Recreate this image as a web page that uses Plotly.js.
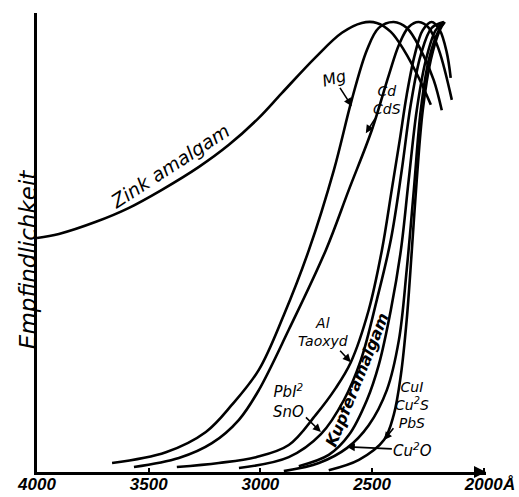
<!DOCTYPE html>
<html>
<head>
<meta charset="utf-8">
<script src="https://cdn.plot.ly/plotly-3.0.1.min.js"></script>
<style>html,body{margin:0;padding:0;background:#fff;}#chart{width:519px;height:497px;}</style>
</head>
<body>
<div id="chart"></div>
<script>
// Wavelength (Å) and relative sensitivity values
const zinkX = [4000,3902,3736,3588,3441,3275,3141,3007,2904,2752,2635,2546,2479,2416,2358,2291,2237];
const zinkY = [52,52.9,55.6,58.7,62.7,67.8,72.7,78.7,84.2,92.2,97.6,99.8,99.8,97.8,93.8,87.6,81.6];
const mgX = [3664,3423,3244,3128,3007,2895,2783,2671,2591,2523,2470,2403,2345,2282,2224,2188];
const mgY = [2,4.4,8.9,14.9,22.7,34.9,49.3,67.1,82.7,93.8,98.7,100,98.7,93.8,87.1,80.4];
const cdsX = [3566,3365,3217,3096,3007,2873,2707,2604,2501,2425,2380,2336,2291,2246,2201,2143];
const cdsY = [1.1,3.1,6.4,11.6,18.2,31.6,49.3,62.7,76,88.2,94.9,98.9,100,98.7,93.8,82.7];
const alX = [3374,3186,3020,2873,2752,2662,2595,2515,2456,2412,2376,2345,2309,2273,2233,2197,2166,2148];
const alY = [1.1,2,3.3,6,12.7,18.7,24.4,36,49.3,62.7,73.8,83.8,92.7,98.2,100,98.2,93.3,87.6];
const pbiX = [3096,2873,2729,2626,2550,2479,2416,2367,2327,2282,2233,2179];
const pbiY = [0.9,3.3,8.4,16,24.9,38.2,51.6,67.1,81.6,92.7,98.7,100];
const kupferX = [2828,2694,2604,2523,2470,2416,2371,2336,2300,2259,2215,2179];
const kupferY = [1.3,3.8,8.2,16,23.8,36,49.3,64.9,80.4,91.6,98.2,100];
const cuiX = [2694,2559,2447,2403,2371,2345,2322,2300,2273,2237,2197,2175];
const cuiY = [0.4,2.7,7.1,12.7,21.6,33.8,49.3,64.9,80.4,91.6,98.2,100];
const cu2oX = [2895,2738,2613,2515,2434,2380,2345,2313,2282,2246,2201,2175];
const cu2oY = [0.2,2,5.3,10.4,18.2,29.3,44.9,62.7,80.4,91.6,98.2,100];

const tickVals = [4000,3500,3000,2500,2000];
const tickText = ['4000','3500','3000','2500','2000'];

const FONT = 'DejaVu Sans, Liberation Sans, sans-serif';
const TICKFONT = 'Liberation Sans, Arial, sans-serif';
function curve(x, y, name) {
  return {x: x, y: y, name: name, type: 'scatter', mode: 'lines',
    line: {color: '#000', width: 2.6, shape: 'spline', smoothing: 1}, hoverinfo: 'skip'};
}
const data = [
  curve(zinkX, zinkY, 'Zink amalgam'),
  curve(mgX, mgY, 'Mg'),
  curve(cdsX, cdsY, 'Cd, CdS'),
  curve(alX, alY, 'Al, Taoxyd'),
  curve(pbiX, pbiY, 'PbI², SnO'),
  curve(kupferX, kupferY, 'Kupferamalgam'),
  curve(cuiX, cuiY, 'CuI, Cu²S, PbS'),
  curve(cu2oX, cu2oY, 'Cu²O')
];

const lbl = (sz) => ({family: FONT, size: sz, color: '#000', style: 'italic'});
function arrowLabel(x, y, text, ax, ay, sz) {
  return {x: x, y: y, xref: 'x', yref: 'y', text: text, showarrow: true,
    ax: ax, ay: ay, arrowhead: 2, arrowsize: 1, arrowwidth: 1.6, arrowcolor: '#000',
    standoff: 0, startstandoff: 0, font: lbl(sz), align: 'center'};
}
const annotations = [
  {x: 3405, y: 68, xref: 'x', yref: 'y', text: 'Zink amalgam', showarrow: false,
   textangle: -33, font: lbl(19)},
  {x: 2565, y: 20.5, xref: 'x', yref: 'y', text: 'Kupferamalgam', showarrow: false,
   textangle: -68, font: Object.assign(lbl(16), {weight: 'bold'})},
  Object.assign(arrowLabel(2591, 81.3, 'Mg', -18, -28, 16), {textangle: -15}),
  arrowLabel(2528, 75.3, 'Cd<br>CdS', 21, -33, 14),
  arrowLabel(2595, 24.4, 'Al<br>Taoxyd', -28, -30, 14),
  arrowLabel(2729, 8.9, 'PbI<sup>2</sup><br>SnO', -32, -31, 15),
  arrowLabel(2447, 7.1, 'CuI<br>Cu<sup>2</sup>S<br>PbS', 28, -35, 14),
  arrowLabel(2613, 5.6, 'Cu<sup>2</sup>O', 66, 3, 15),
  {x: 1.049, y: -0.028, xref: 'paper', yref: 'paper', xanchor: 'center', yanchor: 'middle',
   text: 'Å', showarrow: false,
   font: {family: TICKFONT, size: 17, color: '#000', style: 'italic', weight: 'bold'}},
  {x: -0.053, y: 0.462, xref: 'paper', yref: 'paper', text: 'Empfindlichkeit', showarrow: false,
   textangle: -90, font: lbl(23)},
  // arrow tip at the end of the x axis
  {x: 1990, y: 0, xref: 'x', yref: 'y', text: '', showarrow: true, ax: -10, ay: 0,
   arrowhead: 2, arrowsize: 1, arrowwidth: 2.4, arrowcolor: '#000', standoff: 0}
];

const layout = {
  width: 519, height: 497,
  margin: {l: 37, r: 33, t: 13, b: 25, pad: 0},
  paper_bgcolor: '#fff', plot_bgcolor: '#fff',
  showlegend: false,
  xaxis: {range: [4000, 1990], tickvals: tickVals, ticktext: tickText,
    showline: true, linecolor: '#000', linewidth: 2.6, showgrid: false, zeroline: false,
    ticks: 'inside', ticklen: 4, tickwidth: 2, tickcolor: '#000', ticklabelstandoff: -5,
    tickfont: {family: TICKFONT, size: 17, color: '#000', style: 'italic', weight: 'bold'}},
  yaxis: {range: [0, 102], showline: true, linecolor: '#000', linewidth: 2.6,
    showgrid: false, zeroline: false, showticklabels: false, ticks: ''},
  annotations: annotations
};
Plotly.newPlot('chart', data, layout, {displayModeBar: false, staticPlot: true});
</script>
</body>
</html>
